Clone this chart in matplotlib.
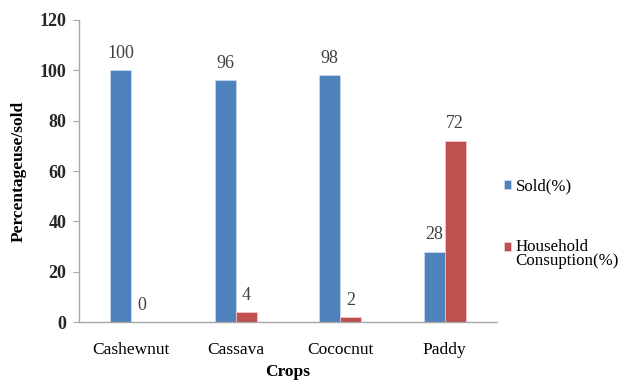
import matplotlib
matplotlib.use("Agg")
import matplotlib.pyplot as plt
import numpy as np

categories = ["Cashewnut", "Cassava", "Cococnut", "Paddy"]
sold = [100, 96, 98, 28]
household = [0, 4, 2, 72]
series_names = ["Sold(%)", "Household\nConsuption(%)"]
yticks = [0, 20, 40, 60, 80, 100, 120]

plt.rcParams['font.family'] = ['Liberation Serif', 'DejaVu Serif']

fig = plt.figure(figsize=(6.26, 3.83), dpi=100)
ax = fig.add_axes([0.126, 0.159, 0.668, 0.789])

x = np.arange(len(categories))
w = 0.2
blue = "#4f81bd"
red = "#c0504d"
b1 = ax.bar(x - w/2, sold, w, color=blue, label=series_names[0], edgecolor="#dce6f2", linewidth=0.4)
b2 = ax.bar(x + w/2, household, w, color=red, label=series_names[1], edgecolor="#f2dcdb", linewidth=0.4)

for rect, v in zip(b1, sold):
    ax.text(rect.get_x() + rect.get_width()/2, v + 3.3, str(v), ha="center", va="bottom",
            fontsize=13, color="#404040")
for rect, v in zip(b2, household):
    ax.text(rect.get_x() + rect.get_width()/2, v + 3.3, str(v), ha="center", va="bottom",
            fontsize=13, color="#404040")

ax.set_xlim(-0.5, len(categories) - 0.5)
ax.set_ylim(0, 120)
ax.set_yticks(yticks)
ax.set_yticklabels([str(t) for t in yticks], fontsize=13, fontweight="bold", color="#262626")
ax.set_xticks(x)
ax.set_xticklabels(categories, fontsize=12.5)
ax.tick_params(axis="x", length=0, pad=14)
ax.tick_params(axis="y", length=4, color="#a6a6a6", pad=5)

for s in ["top", "right"]:
    ax.spines[s].set_visible(False)
for s in ["left", "bottom"]:
    ax.spines[s].set_color("#a6a6a6")
    ax.spines[s].set_linewidth(1)

ax.set_ylabel("Percentageuse/sold", fontsize=12.5, fontweight="bold", labelpad=9)
ax.set_xlabel("Crops", fontsize=12.5, fontweight="bold", labelpad=5)

leg = ax.legend(loc="center left", bbox_to_anchor=(1.0, 0.325), frameon=False,
                fontsize=12.2, handlelength=0.45, handleheight=0.45, handletextpad=0.25,
                labelspacing=2.6, borderaxespad=0.2, borderpad=0.2)
for t in leg.get_texts():
    t.set_linespacing(0.85)
h = leg.legend_handles[1]
h.set_y(h.get_y() + 5.5)

fig.savefig("out.png", dpi=100)
